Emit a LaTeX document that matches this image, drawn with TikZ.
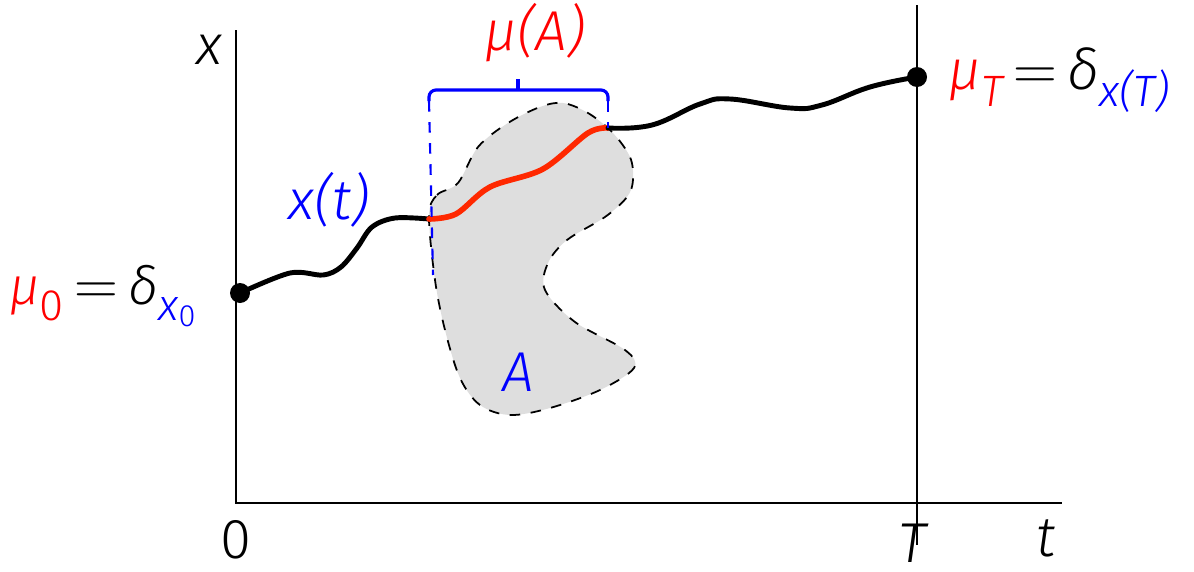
\documentclass[tikz,border=0pt]{standalone}
\usepackage{fontspec}
\setmainfont{Fira Sans Light}
\usepackage{tikz}
\usetikzlibrary{positioning,calc}
\definecolor{blobgray}{RGB}{222,222,222}
\definecolor{pathred}{RGB}{255,40,0}
\newcommand{\lowidx}[1]{\raisebox{-0.6ex}{\fontsize{12.5}{12.5}\selectfont #1}}
\newcommand{\eqsign}{\hspace{3pt}{\fontsize{18}{18}\selectfont$=$}\hspace{3pt}}

\begin{document}
\begin{tikzpicture}[x=0.1mm, y=-0.1mm,
  axis/.style={line width=0.6pt},
  lbl/.style={font=\fontsize{16}{16}\selectfont, inner sep=0pt},
  dot/.style={circle, fill=black, inner sep=0pt, minimum size=2mm},
  traj/.style={line width=1.4pt, line cap=round, line join=round},
  setA/.style={fill=blobgray, draw=black, dashed, line width=0.5pt}]
\useasboundingbox (0,0) rectangle (1194,571);

% axes
\coordinate (o) at (236,503);
\draw[axis] (236,30) -- (o) -- (1062,503);
\draw[axis] (917,5) -- (917,545);
\node[lbl] (xlab) at (209,50) {\itshape x};
\node[lbl] (zero) at (236,540) {0};
\node[lbl] (Tlab) at (912,543) {\itshape T};
\node[lbl] (tlab) at (1046,538) {\itshape t};

% the set A
\draw[setA] plot[smooth cycle, tension=0.55] coordinates {
  (429,216) (437,195) (458,183) (478,147) (508,123) (540,107) (563,103)
  (588,113) (612,132) (630,157) (633,180) (627,197) (605,217) (567,240)
  (548,263) (545,290) (575,322) (625,350) (634,368) (600,390) (550,408)
  (510,415) (480,405) (460,378) (445,330) (435,280)};
\node[lbl, text=blue] (Alab) at (518,372) {\itshape A};

% trajectory
\node[dot] (start) at (240,293) {};
\node[dot] (final) at (917,77) {};
\coordinate (enter) at (429,219);
\coordinate (leave) at (608,128);
\draw[traj] plot[smooth, tension=0.55] coordinates {
  (start) (290,273) (323,275) (341,267) (357,248) (372,227) (395,218) (enter)};
\draw[traj, pathred, line width=1.6pt] plot[smooth, tension=0.55] coordinates {
  (enter) (456,214) (490,187) (543,169) (588,133) (leave)};
\draw[traj] plot[smooth, tension=0.7] coordinates {
  (leave) (652,125) (700,104) (730,99) (790,108) (822,105) (870,87) (final)};

% bracket
\draw[blue, line width=0.9pt, rounded corners=2pt]
  (429,101) -- (429,90) -- (608,90) -- (608,101);
\draw[blue, line width=0.9pt] (518,90) -- (518,79);
\draw[blue, dashed, line width=0.6pt] (429,101) -- (433,275);
\draw[blue, dashed, line width=0.6pt] (608,101) -- (leave);

% labels
\node[lbl, text=red] (muA) at (535,33) {\itshape μ(A)};
\node[lbl, text=blue] (xt) at (329,200) {\itshape x(t)};
\node[lbl, anchor=east, font=\fontsize{15}{15}\selectfont] (mu0) at (198,296)
  {{\color{red}\itshape μ\lowidx{\upshape 0}}\eqsign{\itshape δ}{\color{blue}\lowidx{\itshape x\textsubscript{\upshape 0}}}};
\node[lbl, anchor=west] (muT) at (948,80)
  {{\color{red}\itshape μ\lowidx{T}}\eqsign{\itshape δ}{\color{blue}\lowidx{\itshape x(T)}}};
\end{tikzpicture}
\end{document}
